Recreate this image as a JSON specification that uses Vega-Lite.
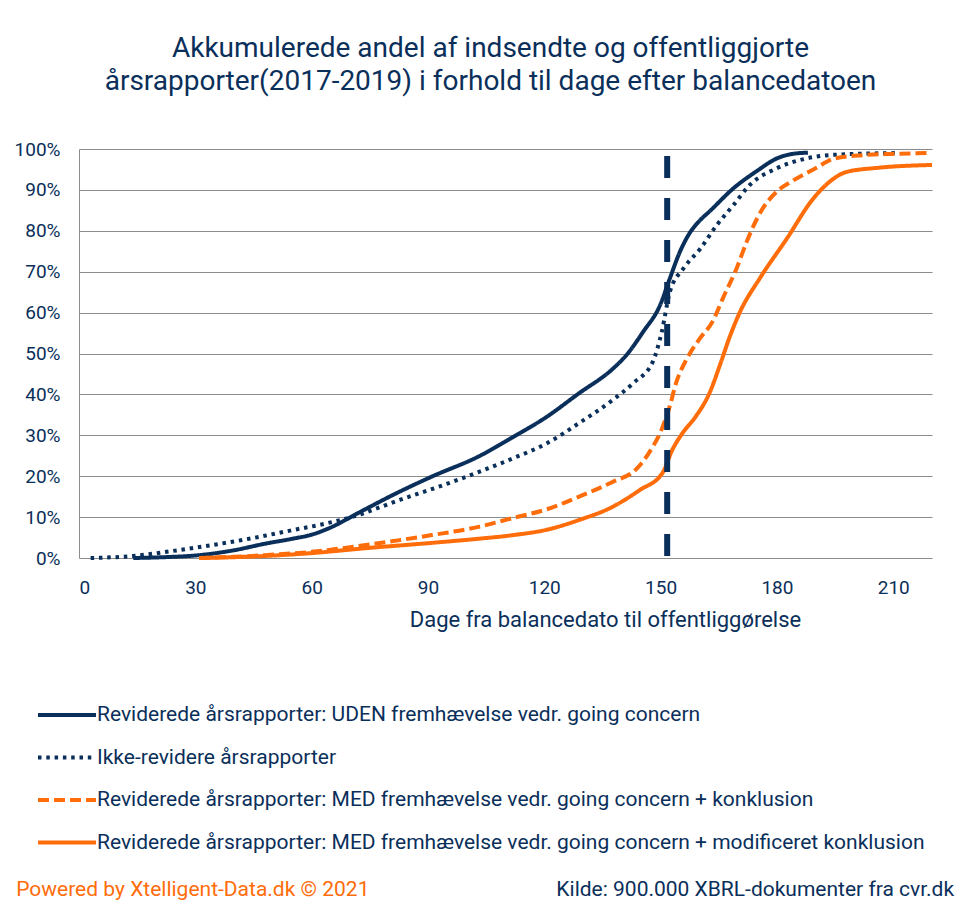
{
  "$schema": "https://vega.github.io/schema/vega-lite/v6.json",
  "autosize": {"type": "none"},
  "width": 853,
  "height": 409,
  "padding": {"left": 79, "top": 149, "right": 38, "bottom": 360},
  "background": "white",
  "config": {
    "view": {"stroke": null},
    "font": "Roboto",
    "axis": {"labelFont": "Roboto", "titleFont": "Roboto", "labelColor": "#0a2f5a", "titleColor": "#0a2f5a"},
    "legend": {"labelFont": "Roboto", "labelColor": "#0a2f5a"}
  },
  "title": {
    "text": ["Akkumulerede andel af indsendte og offentliggjorte", "årsrapporter(2017-2019) i forhold til dage efter balancedatoen"],
    "font": "Roboto",
    "fontSize": 28,
    "fontWeight": "normal",
    "color": "#0a2f5a",
    "anchor": "middle",
    "frame": "group",
    "dx": -15,
    "lineHeight": 33,
    "offset": 44
  },
  "datasets": {
    "curves": [
      {"serie": "Reviderede årsrapporter: UDEN fremhævelse vedr. going concern", "dage": 14, "andel": 0},
      {"serie": "Reviderede årsrapporter: UDEN fremhævelse vedr. going concern", "dage": 22, "andel": 0.2},
      {"serie": "Reviderede årsrapporter: UDEN fremhævelse vedr. going concern", "dage": 31, "andel": 0.7},
      {"serie": "Reviderede årsrapporter: UDEN fremhævelse vedr. going concern", "dage": 40, "andel": 1.9},
      {"serie": "Reviderede årsrapporter: UDEN fremhævelse vedr. going concern", "dage": 48, "andel": 3.5},
      {"serie": "Reviderede årsrapporter: UDEN fremhævelse vedr. going concern", "dage": 55, "andel": 4.7},
      {"serie": "Reviderede årsrapporter: UDEN fremhævelse vedr. going concern", "dage": 60, "andel": 5.7},
      {"serie": "Reviderede årsrapporter: UDEN fremhævelse vedr. going concern", "dage": 65, "andel": 7.5},
      {"serie": "Reviderede årsrapporter: UDEN fremhævelse vedr. going concern", "dage": 72, "andel": 11},
      {"serie": "Reviderede årsrapporter: UDEN fremhævelse vedr. going concern", "dage": 82, "andel": 15.9},
      {"serie": "Reviderede årsrapporter: UDEN fremhævelse vedr. going concern", "dage": 91, "andel": 19.9},
      {"serie": "Reviderede årsrapporter: UDEN fremhævelse vedr. going concern", "dage": 103, "andel": 24.8},
      {"serie": "Reviderede årsrapporter: UDEN fremhævelse vedr. going concern", "dage": 112, "andel": 29.6},
      {"serie": "Reviderede årsrapporter: UDEN fremhævelse vedr. going concern", "dage": 120.6, "andel": 34.5},
      {"serie": "Reviderede årsrapporter: UDEN fremhævelse vedr. going concern", "dage": 129, "andel": 40.3},
      {"serie": "Reviderede årsrapporter: UDEN fremhævelse vedr. going concern", "dage": 137.6, "andel": 46.2},
      {"serie": "Reviderede årsrapporter: UDEN fremhævelse vedr. going concern", "dage": 141, "andel": 49.4},
      {"serie": "Reviderede årsrapporter: UDEN fremhævelse vedr. going concern", "dage": 145.5, "andel": 55.3},
      {"serie": "Reviderede årsrapporter: UDEN fremhævelse vedr. going concern", "dage": 149.9, "andel": 61.9},
      {"serie": "Reviderede årsrapporter: UDEN fremhævelse vedr. going concern", "dage": 152.4, "andel": 68.4},
      {"serie": "Reviderede årsrapporter: UDEN fremhævelse vedr. going concern", "dage": 155, "andel": 74.9},
      {"serie": "Reviderede årsrapporter: UDEN fremhævelse vedr. going concern", "dage": 157.6, "andel": 79.6},
      {"serie": "Reviderede årsrapporter: UDEN fremhævelse vedr. going concern", "dage": 160, "andel": 82.4},
      {"serie": "Reviderede årsrapporter: UDEN fremhævelse vedr. going concern", "dage": 162.8, "andel": 84.9},
      {"serie": "Reviderede årsrapporter: UDEN fremhævelse vedr. going concern", "dage": 168.8, "andel": 90.4},
      {"serie": "Reviderede årsrapporter: UDEN fremhævelse vedr. going concern", "dage": 174.8, "andel": 94.6},
      {"serie": "Reviderede årsrapporter: UDEN fremhævelse vedr. going concern", "dage": 180, "andel": 97.7},
      {"serie": "Reviderede årsrapporter: UDEN fremhævelse vedr. going concern", "dage": 184, "andel": 98.8},
      {"serie": "Reviderede årsrapporter: UDEN fremhævelse vedr. going concern", "dage": 188, "andel": 99.1},
      {"serie": "Ikke-revidere årsrapporter", "dage": 3, "andel": 0},
      {"serie": "Ikke-revidere årsrapporter", "dage": 14, "andel": 0.5},
      {"serie": "Ikke-revidere årsrapporter", "dage": 24, "andel": 1.7},
      {"serie": "Ikke-revidere årsrapporter", "dage": 34.6, "andel": 3.2},
      {"serie": "Ikke-revidere årsrapporter", "dage": 45, "andel": 4.9},
      {"serie": "Ikke-revidere årsrapporter", "dage": 55, "andel": 6.8},
      {"serie": "Ikke-revidere årsrapporter", "dage": 62, "andel": 8.1},
      {"serie": "Ikke-revidere årsrapporter", "dage": 70.7, "andel": 10.1},
      {"serie": "Ikke-revidere årsrapporter", "dage": 82.7, "andel": 14.2},
      {"serie": "Ikke-revidere årsrapporter", "dage": 93, "andel": 17.5},
      {"serie": "Ikke-revidere årsrapporter", "dage": 103, "andel": 21},
      {"serie": "Ikke-revidere årsrapporter", "dage": 112, "andel": 24.4},
      {"serie": "Ikke-revidere årsrapporter", "dage": 120.6, "andel": 28},
      {"serie": "Ikke-revidere årsrapporter", "dage": 129, "andel": 33},
      {"serie": "Ikke-revidere årsrapporter", "dage": 137.6, "andel": 38.6},
      {"serie": "Ikke-revidere årsrapporter", "dage": 143, "andel": 42.8},
      {"serie": "Ikke-revidere årsrapporter", "dage": 148, "andel": 48},
      {"serie": "Ikke-revidere årsrapporter", "dage": 150.3, "andel": 55.3},
      {"serie": "Ikke-revidere årsrapporter", "dage": 152.4, "andel": 65.1},
      {"serie": "Ikke-revidere årsrapporter", "dage": 155.9, "andel": 70.8},
      {"serie": "Ikke-revidere årsrapporter", "dage": 160.3, "andel": 75.7},
      {"serie": "Ikke-revidere årsrapporter", "dage": 164.5, "andel": 81.4},
      {"serie": "Ikke-revidere årsrapporter", "dage": 168.8, "andel": 86.3},
      {"serie": "Ikke-revidere årsrapporter", "dage": 173, "andel": 91.2},
      {"serie": "Ikke-revidere årsrapporter", "dage": 180, "andel": 95.3},
      {"serie": "Ikke-revidere årsrapporter", "dage": 187.7, "andel": 97.7},
      {"serie": "Ikke-revidere årsrapporter", "dage": 195, "andel": 98.6},
      {"serie": "Ikke-revidere årsrapporter", "dage": 211, "andel": 99},
      {"serie": "Reviderede årsrapporter: MED fremhævelse vedr. going concern + konklusion", "dage": 31, "andel": 0},
      {"serie": "Reviderede årsrapporter: MED fremhævelse vedr. going concern + konklusion", "dage": 40, "andel": 0.3},
      {"serie": "Reviderede årsrapporter: MED fremhævelse vedr. going concern + konklusion", "dage": 48, "andel": 0.7},
      {"serie": "Reviderede årsrapporter: MED fremhævelse vedr. going concern + konklusion", "dage": 60, "andel": 1.5},
      {"serie": "Reviderede årsrapporter: MED fremhævelse vedr. going concern + konklusion", "dage": 74, "andel": 3.2},
      {"serie": "Reviderede årsrapporter: MED fremhævelse vedr. going concern + konklusion", "dage": 91, "andel": 5.6},
      {"serie": "Reviderede årsrapporter: MED fremhævelse vedr. going concern + konklusion", "dage": 103, "andel": 7.6},
      {"serie": "Reviderede årsrapporter: MED fremhævelse vedr. going concern + konklusion", "dage": 112, "andel": 9.8},
      {"serie": "Reviderede årsrapporter: MED fremhævelse vedr. going concern + konklusion", "dage": 120.6, "andel": 11.9},
      {"serie": "Reviderede årsrapporter: MED fremhævelse vedr. going concern + konklusion", "dage": 129, "andel": 15},
      {"serie": "Reviderede årsrapporter: MED fremhævelse vedr. going concern + konklusion", "dage": 137.6, "andel": 18.6},
      {"serie": "Reviderede årsrapporter: MED fremhævelse vedr. going concern + konklusion", "dage": 143.8, "andel": 21.8},
      {"serie": "Reviderede årsrapporter: MED fremhævelse vedr. going concern + konklusion", "dage": 147, "andel": 25.7},
      {"serie": "Reviderede årsrapporter: MED fremhævelse vedr. going concern + konklusion", "dage": 150.5, "andel": 32},
      {"serie": "Reviderede årsrapporter: MED fremhævelse vedr. going concern + konklusion", "dage": 152.3, "andel": 36.9},
      {"serie": "Reviderede årsrapporter: MED fremhævelse vedr. going concern + konklusion", "dage": 154, "andel": 42.8},
      {"serie": "Reviderede årsrapporter: MED fremhævelse vedr. going concern + konklusion", "dage": 156.7, "andel": 48.6},
      {"serie": "Reviderede årsrapporter: MED fremhævelse vedr. going concern + konklusion", "dage": 160, "andel": 53.5},
      {"serie": "Reviderede årsrapporter: MED fremhævelse vedr. going concern + konklusion", "dage": 163.4, "andel": 57.8},
      {"serie": "Reviderede årsrapporter: MED fremhævelse vedr. going concern + konklusion", "dage": 166.2, "andel": 63.8},
      {"serie": "Reviderede årsrapporter: MED fremhævelse vedr. going concern + konklusion", "dage": 169.6, "andel": 70.8},
      {"serie": "Reviderede årsrapporter: MED fremhævelse vedr. going concern + konklusion", "dage": 172.2, "andel": 77.3},
      {"serie": "Reviderede årsrapporter: MED fremhævelse vedr. going concern + konklusion", "dage": 175.6, "andel": 84.3},
      {"serie": "Reviderede årsrapporter: MED fremhævelse vedr. going concern + konklusion", "dage": 180, "andel": 89.6},
      {"serie": "Reviderede årsrapporter: MED fremhævelse vedr. going concern + konklusion", "dage": 184.2, "andel": 92.3},
      {"serie": "Reviderede årsrapporter: MED fremhævelse vedr. going concern + konklusion", "dage": 190.2, "andel": 95.4},
      {"serie": "Reviderede årsrapporter: MED fremhævelse vedr. going concern + konklusion", "dage": 194.5, "andel": 97.6},
      {"serie": "Reviderede årsrapporter: MED fremhævelse vedr. going concern + konklusion", "dage": 202, "andel": 98.5},
      {"serie": "Reviderede årsrapporter: MED fremhævelse vedr. going concern + konklusion", "dage": 210, "andel": 98.8},
      {"serie": "Reviderede årsrapporter: MED fremhævelse vedr. going concern + konklusion", "dage": 219, "andel": 99},
      {"serie": "Reviderede årsrapporter: MED fremhævelse vedr. going concern + modificeret konklusion", "dage": 31, "andel": 0},
      {"serie": "Reviderede årsrapporter: MED fremhævelse vedr. going concern + modificeret konklusion", "dage": 40, "andel": 0.2},
      {"serie": "Reviderede årsrapporter: MED fremhævelse vedr. going concern + modificeret konklusion", "dage": 48, "andel": 0.5},
      {"serie": "Reviderede årsrapporter: MED fremhævelse vedr. going concern + modificeret konklusion", "dage": 60, "andel": 1.2},
      {"serie": "Reviderede årsrapporter: MED fremhævelse vedr. going concern + modificeret konklusion", "dage": 74, "andel": 2.4},
      {"serie": "Reviderede årsrapporter: MED fremhævelse vedr. going concern + modificeret konklusion", "dage": 91, "andel": 3.7},
      {"serie": "Reviderede årsrapporter: MED fremhævelse vedr. going concern + modificeret konklusion", "dage": 103, "andel": 4.7},
      {"serie": "Reviderede årsrapporter: MED fremhævelse vedr. going concern + modificeret konklusion", "dage": 112, "andel": 5.6},
      {"serie": "Reviderede årsrapporter: MED fremhævelse vedr. going concern + modificeret konklusion", "dage": 120.6, "andel": 6.9},
      {"serie": "Reviderede årsrapporter: MED fremhævelse vedr. going concern + modificeret konklusion", "dage": 129, "andel": 9.3},
      {"serie": "Reviderede årsrapporter: MED fremhævelse vedr. going concern + modificeret konklusion", "dage": 137.6, "andel": 12.5},
      {"serie": "Reviderede årsrapporter: MED fremhævelse vedr. going concern + modificeret konklusion", "dage": 144.6, "andel": 16.6},
      {"serie": "Reviderede årsrapporter: MED fremhævelse vedr. going concern + modificeret konklusion", "dage": 150.5, "andel": 20.8},
      {"serie": "Reviderede årsrapporter: MED fremhævelse vedr. going concern + modificeret konklusion", "dage": 153, "andel": 26.4},
      {"serie": "Reviderede årsrapporter: MED fremhævelse vedr. going concern + modificeret konklusion", "dage": 155.7, "andel": 30.6},
      {"serie": "Reviderede årsrapporter: MED fremhævelse vedr. going concern + modificeret konklusion", "dage": 159, "andel": 34.5},
      {"serie": "Reviderede årsrapporter: MED fremhævelse vedr. going concern + modificeret konklusion", "dage": 162.6, "andel": 40.3},
      {"serie": "Reviderede årsrapporter: MED fremhævelse vedr. going concern + modificeret konklusion", "dage": 165.5, "andel": 47.7},
      {"serie": "Reviderede årsrapporter: MED fremhævelse vedr. going concern + modificeret konklusion", "dage": 167.8, "andel": 54},
      {"serie": "Reviderede årsrapporter: MED fremhævelse vedr. going concern + modificeret konklusion", "dage": 170.5, "andel": 60.2},
      {"serie": "Reviderede årsrapporter: MED fremhævelse vedr. going concern + modificeret konklusion", "dage": 175.6, "andel": 68.4},
      {"serie": "Reviderede årsrapporter: MED fremhævelse vedr. going concern + modificeret konklusion", "dage": 182.5, "andel": 78},
      {"serie": "Reviderede årsrapporter: MED fremhævelse vedr. going concern + modificeret konklusion", "dage": 189.4, "andel": 87.9},
      {"serie": "Reviderede årsrapporter: MED fremhævelse vedr. going concern + modificeret konklusion", "dage": 193.6, "andel": 92},
      {"serie": "Reviderede årsrapporter: MED fremhævelse vedr. going concern + modificeret konklusion", "dage": 198, "andel": 94.4},
      {"serie": "Reviderede årsrapporter: MED fremhævelse vedr. going concern + modificeret konklusion", "dage": 206, "andel": 95.4},
      {"serie": "Reviderede årsrapporter: MED fremhævelse vedr. going concern + modificeret konklusion", "dage": 220, "andel": 96.1}
    ],
    "markering": [{"dage": 151.7, "fra": 98.3, "til": 0}],
    "kilde": [
      {"tekst": "Powered by Xtelligent-Data.dk © 2021"},
      {"tekst": "Kilde: 900.000 XBRL-dokumenter fra cvr.dk"}
    ]
  },
  "layer": [
    {
      "data": {"name": "curves"},
      "mark": {"type": "line", "interpolate": "monotone", "strokeWidth": 4, "strokeCap": "butt"},
      "encoding": {
        "x": {
          "field": "dage",
          "type": "quantitative",
          "scale": {"domain": [0, 220], "nice": false},
          "axis": {
            "values": [0, 30, 60, 90, 120, 150, 180, 210],
            "grid": false,
            "domain": false,
            "ticks": false,
            "labelFontSize": 19,
            "labelPadding": 20,
            "title": "Dage fra balancedato til offentliggørelse",
            "titleFontSize": 22,
            "titleFontWeight": "normal",
            "titleX": 526,
            "titlePadding": 12
          }
        },
        "y": {
          "field": "andel",
          "type": "quantitative",
          "scale": {"domain": [0, 100], "nice": false},
          "axis": {
            "values": [0, 10, 20, 30, 40, 50, 60, 70, 80, 90, 100],
            "labelExpr": "datum.value + '%'",
            "grid": true,
            "gridColor": "#8c8c8c",
            "gridWidth": 1,
            "domain": true,
            "domainColor": "#8c8c8c",
            "domainWidth": 1,
            "ticks": false,
            "labelFontSize": 19,
            "labelPadding": 19,
            "title": null
          }
        },
        "color": {
          "field": "serie",
          "type": "nominal",
          "scale": {
            "domain": [
              "Reviderede årsrapporter: UDEN fremhævelse vedr. going concern",
              "Ikke-revidere årsrapporter",
              "Reviderede årsrapporter: MED fremhævelse vedr. going concern + konklusion",
              "Reviderede årsrapporter: MED fremhævelse vedr. going concern + modificeret konklusion"
            ],
            "range": ["#0a2f5a", "#0a2f5a", "#ff6c0a", "#ff6c0a"]
          },
          "legend": {
            "orient": "none",
            "legendX": -43,
            "legendY": 535,
            "direction": "vertical",
            "title": null,
            "symbolType": "stroke",
            "symbolSize": 3364,
            "symbolStrokeWidth": 4,
            "labelFontSize": 21,
            "labelOffset": -1,
            "rowPadding": 1.5,
            "labelLimit": 0
          }
        },
        "strokeDash": {
          "field": "serie",
          "type": "nominal",
          "scale": {
            "domain": [
              "Reviderede årsrapporter: UDEN fremhævelse vedr. going concern",
              "Ikke-revidere årsrapporter",
              "Reviderede årsrapporter: MED fremhævelse vedr. going concern + konklusion",
              "Reviderede årsrapporter: MED fremhævelse vedr. going concern + modificeret konklusion"
            ],
            "range": [[1, 0], [3.5, 4.8], [11, 5], [1, 0]]
          },
          "legend": {
            "orient": "none",
            "legendX": -43,
            "legendY": 535,
            "direction": "vertical",
            "title": null,
            "symbolType": "stroke",
            "symbolSize": 3364,
            "symbolStrokeWidth": 4,
            "labelFontSize": 21,
            "labelOffset": -1,
            "rowPadding": 1.5,
            "labelLimit": 0
          }
        }
      }
    },
    {
      "data": {"name": "markering"},
      "mark": {"type": "rule", "color": "#0a2f5a", "strokeWidth": 6, "strokeDash": [22, 20]},
      "encoding": {
        "x": {"field": "dage", "type": "quantitative"},
        "y": {"field": "fra", "type": "quantitative"},
        "y2": {"field": "til"}
      }
    },
    {
      "data": {"name": "kilde"},
      "transform": [{"filter": "indexof(datum.tekst, 'Powered') === 0"}],
      "mark": {"type": "text", "align": "left", "baseline": "middle", "fontSize": 21, "color": "#ff6c0a"},
      "encoding": {
        "text": {"field": "tekst"},
        "x": {"datum": -16.2},
        "y": {"datum": -81.2}
      }
    },
    {
      "data": {"name": "kilde"},
      "transform": [{"filter": "indexof(datum.tekst, 'Kilde') === 0"}],
      "mark": {"type": "text", "align": "right", "baseline": "middle", "fontSize": 21, "color": "#0a2f5a"},
      "encoding": {
        "text": {"field": "tekst"},
        "x": {"datum": 225.7},
        "y": {"datum": -81.2}
      }
    }
  ]
}
